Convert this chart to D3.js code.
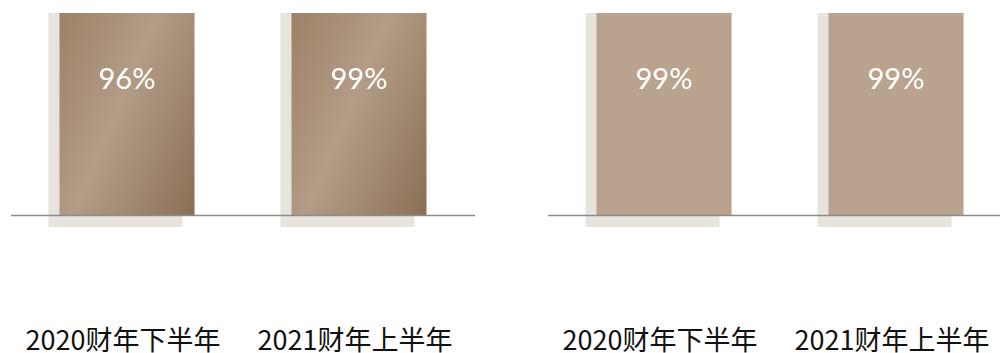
<!DOCTYPE html>
<html>
<head>
<meta charset="utf-8">
<script src="https://cdn.jsdelivr.net/npm/d3@7"></script>
<style>
  html, body { margin: 0; padding: 0; background: #fff; overflow: hidden; }
</style>
</head>
<body>
<div id="chart"></div>
<script>
var svgWidth = 1000;
var svgHeight = 353;

// data
var categories = ["2020财年下半年", "2021财年上半年"];
var leftValues = [96, 99];
var rightValues = [99, 99];

var baseY = 215;
var topY = 13;

var svg = d3.select("#chart")
    .append("svg")
    .attr("width", svgWidth)
    .attr("height", svgHeight);

// gradient for the left panel bars
var defs = svg.append("defs");

// boxes are all drawn full height (the picture is decorative, not proportional)
var yScale = d3.scaleLinear()
    .domain([0, 100])
    .range([baseY, topY]);

var panels = [
    { values: leftValues, x0: 11, x1: 475, fill: "grad" },
    { values: rightValues, x0: 548, x1: 1012, fill: "#b9a28e" }
];

panels.forEach(function(p, pi) {
    var xScale = d3.scaleBand()
        .domain(categories)
        .range([p.x0, p.x1])
        .paddingInner(0.418)
        .paddingOuter(0.209);

    var bw = xScale.bandwidth();
    var g = svg.append("g");

    var data = categories.map(function(c, i) {
        return { cat: c, value: p.values[i], label: p.values[i] + "%" };
    });

    // shadow boxes
    g.selectAll("rect.shadow")
        .data(data)
        .enter()
        .append("rect")
        .attr("class", "shadow")
        .attr("x", d => xScale(d.cat) - 11)
        .attr("y", yScale(100))
        .attr("width", bw - 1)
        .attr("height", 227 - yScale(100))
        .attr("fill", "#e8e3dc");

    if (p.fill == "grad") {
        data.forEach(function(d, i) {
            var bx = xScale(d.cat);
            var h = baseY - yScale(100);
            var lg = defs.append("linearGradient")
                .attr("id", "g" + pi + "_" + i)
                .attr("gradientUnits", "userSpaceOnUse")
                .attr("x1", bx)
                .attr("y1", yScale(100))
                .attr("x2", bx + h * 0.925)
                .attr("y2", yScale(100) + h * 0.385);
            lg.append("stop").attr("offset", "0%").attr("stop-color", "#9d8168");
            lg.append("stop").attr("offset", "45%").attr("stop-color", "#b39c86");
            lg.append("stop").attr("offset", "100%").attr("stop-color", "#8a6f56");
        });
    }

    g.selectAll("rect.bar")
        .data(data)
        .enter()
        .append("rect")
        .attr("class", "bar")
        .attr("x", d => xScale(d.cat))
        .attr("y", yScale(100))
        .attr("width", bw)
        .attr("height", baseY - yScale(100))
        .attr("fill", (d, i) => p.fill == "grad" ? "url(#g" + pi + "_" + i + ")" : p.fill);

    // baseline
    g.append("line")
        .attr("x1", p.x0)
        .attr("x2", p.x1)
        .attr("y1", baseY + 0.5)
        .attr("y2", baseY + 0.5)
        .attr("stroke", "#8c8c8c")
        .attr("stroke-width", 1.5);

    // value text
    g.selectAll("text.val")
        .data(data)
        .enter()
        .append("text")
        .attr("class", "val")
        .attr("x", d => xScale(d.cat) + bw / 2)
        .attr("y", 89)
        .attr("text-anchor", "middle")
        .attr("fill", "#fff")
        .style("font-family", "Lato, 'DejaVu Sans', sans-serif")
        .style("font-size", "29px")
        .text(d => d.label);

    // category labels
    g.selectAll("text.cat")
        .data(data)
        .enter()
        .append("text")
        .attr("class", "cat")
        .attr("x", d => xScale(d.cat) + bw / 2 - 4)
        .attr("y", 350)
        .attr("text-anchor", "middle")
        .attr("fill", "#111")
        .style("font-family", "'Noto Sans CJK SC', sans-serif")
        .style("font-size", "27px")
        .text(d => d.cat);
});
</script>
</body>
</html>
